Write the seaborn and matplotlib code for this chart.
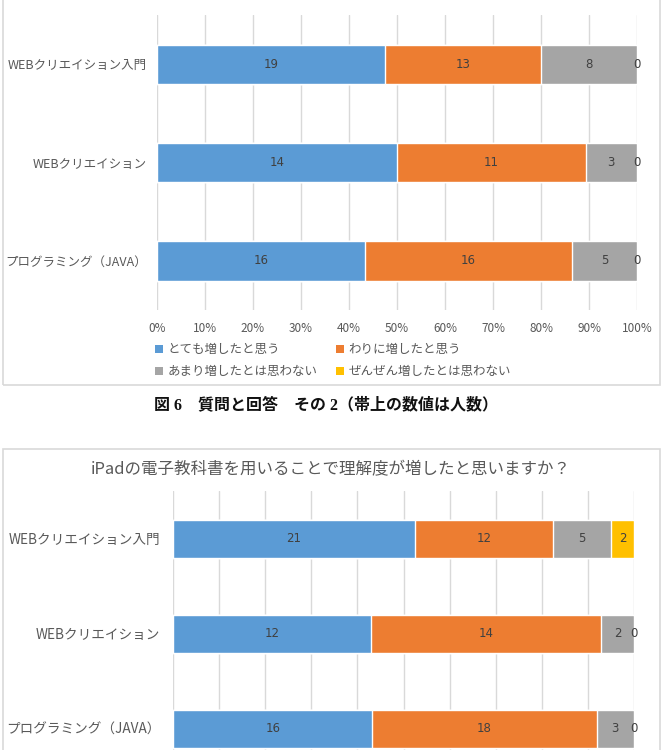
import numpy as np
import pandas as pd
import matplotlib
matplotlib.use("Agg")
import matplotlib.pyplot as plt
from matplotlib.patches import Rectangle, Patch
from matplotlib.ticker import PercentFormatter
import seaborn as sns

# ---------------- data ----------------
categories = ["WEBクリエイション入門", "WEBクリエイション", "プログラミング（JAVA）"]
series_names = ["とても増したと思う", "わりに増したと思う", "あまり増したとは思わない", "ぜんぜん増したとは思わない"]
colors = ["#5B9BD5", "#ED7D31", "#A5A5A5", "#FFC000"]

# chart 1 (upper, title cut off)
top_very = [19, 14, 16]
top_fairly = [13, 11, 16]
top_notmuch = [8, 3, 5]
top_notatall = [0, 0, 0]

# chart 2 (lower)
bot_title = "iPadの電子教科書を用いることで理解度が増したと思いますか？"
bot_very = [21, 12, 16]
bot_fairly = [12, 14, 18]
bot_notmuch = [5, 2, 3]
bot_notatall = [2, 0, 0]

caption = "図 6　質問と回答　その 2（帯上の数値は人数）"
xticks = [0, 0.1, 0.2, 0.3, 0.4, 0.5, 0.6, 0.7, 0.8, 0.9, 1.0]

# ---------------- style ----------------
sns.set_theme(style="white")
plt.rcParams["font.family"] = ["Noto Sans CJK JP", "DejaVu Sans"]
TXT = "#595959"
GRID = "#D9D9D9"

W, H = 662, 750
fig = plt.figure(figsize=(W / 100, H / 100), dpi=100)
fig.patch.set_facecolor("white")


def fx(px):
    return px / W


def fy(py):
    return 1 - py / H


# chart frames
fig.add_artist(Rectangle((fx(3), fy(385)), fx(657), 385 / H + 0.05, transform=fig.transFigure,
                         fill=False, edgecolor=GRID, linewidth=1.2))
fig.add_artist(Rectangle((fx(3), fy(800)), fx(657), (800 - 449) / H, transform=fig.transFigure,
                         fill=False, edgecolor=GRID, linewidth=1.2))


def draw_chart(ax, vals, catsize, catpad, show_x=True):
    df = pd.DataFrame(np.array(vals).T, columns=series_names)
    df.insert(0, "cat", categories)
    totals = df[series_names].sum(axis=1)
    pct = df[series_names].div(totals, axis=0)
    cum = pct.cumsum(axis=1)
    # draw back to front so each segment shows
    for k in range(len(series_names) - 1, -1, -1):
        sns.barplot(x=cum[series_names[k]], y=df["cat"], orient="h", color=colors[k],
                    saturation=1, width=0.4, ax=ax, zorder=3, order=categories)
    for i in range(len(categories)):
        for k, s in enumerate(series_names):
            left = cum.iloc[i, k] - pct.iloc[i, k]
            center = left + pct.iloc[i, k] / 2
            ax.text(center, i, str(int(df.loc[i, s])), ha="center", va="center",
                    fontsize=8.5, color="#404040", zorder=5, family=["DejaVu Sans"])
    ax.set_xlim(0, 1)
    ax.set_ylim(2.5, -0.5)
    ax.set_xticks(xticks)
    ax.xaxis.set_major_formatter(PercentFormatter(1.0, decimals=0))
    ax.grid(axis="x", color=GRID, linewidth=1, zorder=0)
    ax.grid(axis="y", visible=False)
    for sp in ax.spines.values():
        sp.set_visible(False)
    ax.set_xlabel("")
    ax.set_ylabel("")
    ax.tick_params(axis="both", length=0)
    ax.tick_params(axis="x", pad=9, labelsize=8.5, labelcolor=TXT, labelbottom=show_x)
    ax.tick_params(axis="y", pad=catpad, labelsize=catsize, labelcolor=TXT)
    ax.set_facecolor("white")


ax1 = fig.add_axes([fx(157), fy(310), fx(480), 295 / H])
draw_chart(ax1, [top_very, top_fairly, top_notmuch, top_notatall], 9.0, 7)

handles = [Patch(facecolor=c, edgecolor="none") for c in colors]
order = [0, 2, 1, 3]
ax1.legend([handles[i] for i in order], [series_names[i] for i in order],
           ncol=2, loc="upper left", bbox_to_anchor=(fx(150), fy(338)),
           bbox_transform=fig.transFigure, frameon=False, fontsize=9,
           handlelength=0.6, handleheight=0.6, handletextpad=0.4,
           columnspacing=1.5, labelspacing=0.75, labelcolor=TXT, borderaxespad=0)

# lower chart: its x axis lies below the visible part of the page
ax2 = fig.add_axes([fx(173), fy(491 + 285), fx(461), 285 / H])
draw_chart(ax2, [bot_very, bot_fairly, bot_notmuch, bot_notatall], 9.8, 9, show_x=False)

fig.text(fx(331), fy(470), bot_title, ha="center", va="center", fontsize=11.9, color=TXT)

fig.text(fx(326), fy(405), caption, ha="center", va="center", fontsize=11.5,
         fontweight="bold", color="#111111", family=["Liberation Serif", "Noto Sans CJK JP"])

fig.savefig("out.png", dpi=100, facecolor="white")
